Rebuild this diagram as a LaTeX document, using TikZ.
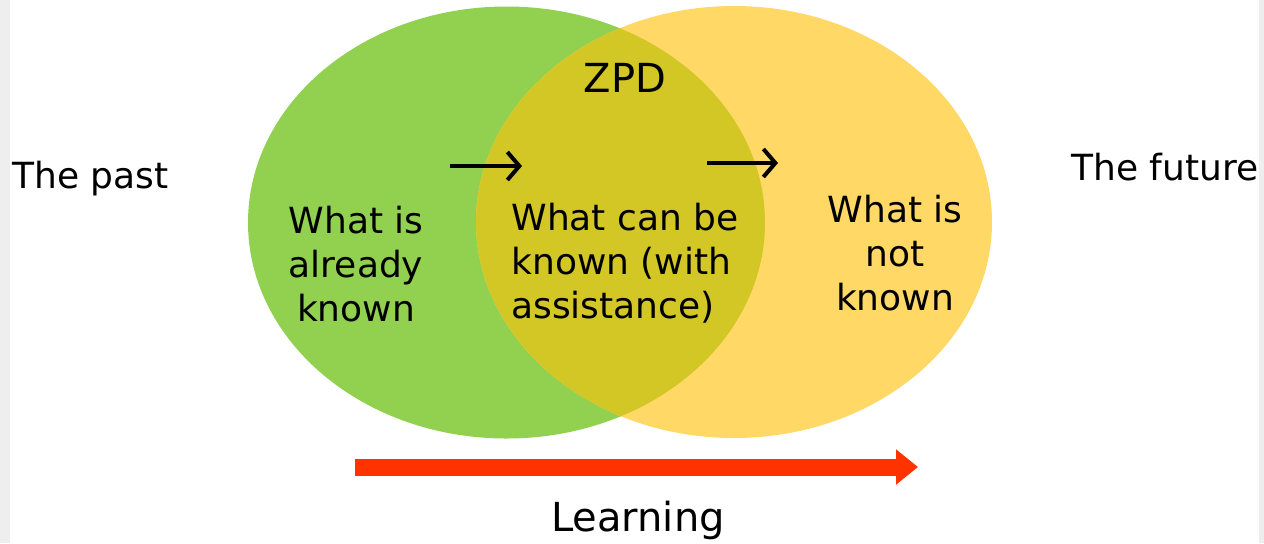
\documentclass[tikz,border=0pt]{standalone}
\usepackage{fontspec}
\setmainfont{DejaVu Sans}
\usetikzlibrary{arrows.meta}
\definecolor{zgreen}{RGB}{146,208,80}
\definecolor{zyellow}{RGB}{255,216,102}
\definecolor{zolive}{RGB}{211,199,38}
\definecolor{zred}{RGB}{255,51,0}
\definecolor{zside}{RGB}{238,238,238}
\tikzset{
  lbl/.style={inner sep=0pt, font=\fontsize{18pt}{22pt}\selectfont},
  biglbl/.style={inner sep=0pt, font=\fontsize{20pt}{24pt}\selectfont},
  smallarrow/.style={line width=2pt, -{Straight Barb[length=6pt,width=14pt,line width=2pt]}},
  learnarrow/.style={zred, line width=8.5pt, -{Triangle[length=11pt,width=17pt]}}
}
\begin{document}
\begin{tikzpicture}[x=0.5pt,y=-0.5pt]
\useasboundingbox (0,0) rectangle (1264,543);
\fill[white] (0,0) rectangle (1264,543);
\fill[zside] (0,0) rectangle (10,543);
\fill[zside] (1259,0) rectangle (1264,543);
% circles
\fill[zgreen] (506.5,222.5) ellipse [x radius=258.5, y radius=216];
\fill[zyellow] (734,222) ellipse [x radius=258, y radius=216];
\begin{scope}
  \clip (506.5,222.5) ellipse [x radius=258.5, y radius=216];
  \fill[zolive] (734,222) ellipse [x radius=258, y radius=216];
\end{scope}
% texts
\node[biglbl, anchor=base] (zpd) at (625,92) {ZPD};
\node[lbl, anchor=base west] (past) at (12,188) {The past};
\node[lbl, anchor=base west] (future) at (1071,180) {The future};
\node[lbl, align=center, anchor=center] (known) at (356,264) {What is\\already\\known};
\node[lbl, align=left, anchor=west] (zone) at (511,263) {What can be\\known (with\\assistance)};
\node[lbl, align=center, anchor=center] (unknown) at (895,253) {What is\\not\\known};
\node[biglbl, anchor=base] (learning) at (638,531) {Learning};
% small arrows
\coordinate (a1s) at (450,166);
\coordinate (a1e) at (522,166);
\coordinate (a2s) at (707,163);
\coordinate (a2e) at (778,163);
\draw[smallarrow] (a1s) -- (a1e);
\draw[smallarrow] (a2s) -- (a2e);
% learning arrow
\coordinate (ls) at (355,467);
\coordinate (le) at (918,467);
\draw[learnarrow] (ls) -- (le);
\end{tikzpicture}
\end{document}
